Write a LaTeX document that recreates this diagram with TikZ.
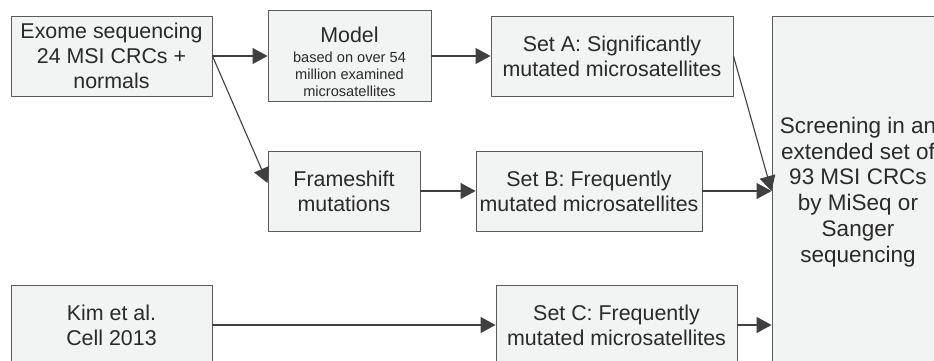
\documentclass[tikz,border=0pt]{standalone}
\usepackage{fontspec}
\setmainfont{Liberation Sans}
\usetikzlibrary{arrows.meta,calc}
\definecolor{boxfill}{HTML}{F2F3F3}
\definecolor{boxline}{HTML}{5A5A5A}
\definecolor{arrowcol}{HTML}{404040}
\definecolor{txt}{HTML}{2A2A2A}
\begin{document}
\begin{tikzpicture}[x=1pt,y=-1pt,
  box/.style={draw=boxline,fill=boxfill,line width=0.9pt,inner sep=0pt,
    align=center,text=txt,font=\fontsize{21.4}{24.8}\selectfont},
  conn/.style={draw=arrowcol,line width=1.1pt,-{Triangle[length=15pt,width=16pt]}}]
\clip (0,0) rectangle (934,360);
\useasboundingbox (0,0) rectangle (934,360);
\fill[white] (0,0) rectangle (934,360);
\node[box,minimum width=201pt,minimum height=80pt] (exome) at (111.5,56)
  {Exome sequencing\\24 MSI CRCs +\\normals};
\node[box,minimum width=163pt,minimum height=80pt] (model) at (349.5,56)
  {\rule{0pt}{32pt}Model\\[-5pt]{\fontsize{14.6}{17}\selectfont\begin{tabular}[t]{@{}c@{}}based on over 54\\ million examined\\ microsatellites\end{tabular}}};
\node[box,minimum width=242pt,minimum height=80pt] (seta) at (612,56)
  {Set A: Significantly\\mutated microsatellites};
\node[box,minimum width=152pt,minimum height=80pt] (fs) at (344,191)
  {Frameshift\\mutations};
\node[box,minimum width=226pt,minimum height=80pt] (setb) at (589,191)
  {Set B: Frequently\\mutated microsatellites};
\node[box,minimum width=201pt,minimum height=80pt] (kim) at (111.5,325)
  {Kim et al.\\Cell 2013};
\node[box,minimum width=241pt,minimum height=80pt] (setc) at (616.5,325)
  {Set C: Frequently\\mutated microsatellites};
\node[box,minimum width=172pt,minimum height=352pt,font=\fontsize{22.5}{25.8}\selectfont] (big) at (858,192)
  {Screening in an\\extended set of\\93 MSI CRCs\\by MiSeq or\\Sanger\\sequencing};
\coordinate (fsin) at ($(fs.west)+(0,-8)$);
\coordinate (bigb) at (big.west |- setb.east);
\coordinate (bigc) at (big.west |- setc.east);
\draw[conn] (exome.east) -- (model.west);
\draw[conn] (model.east) -- (seta.west);
\draw[conn] (exome.east) -- (fsin);
\draw[conn] (fs.east) -- (setb.west);
\draw[conn] (seta.east) -- (bigb);
\draw[conn] (setb.east) -- (bigb);
\draw[conn] (kim.east) -- (setc.west);
\draw[conn] (setc.east) -- (bigc);
\end{tikzpicture}
\end{document}
